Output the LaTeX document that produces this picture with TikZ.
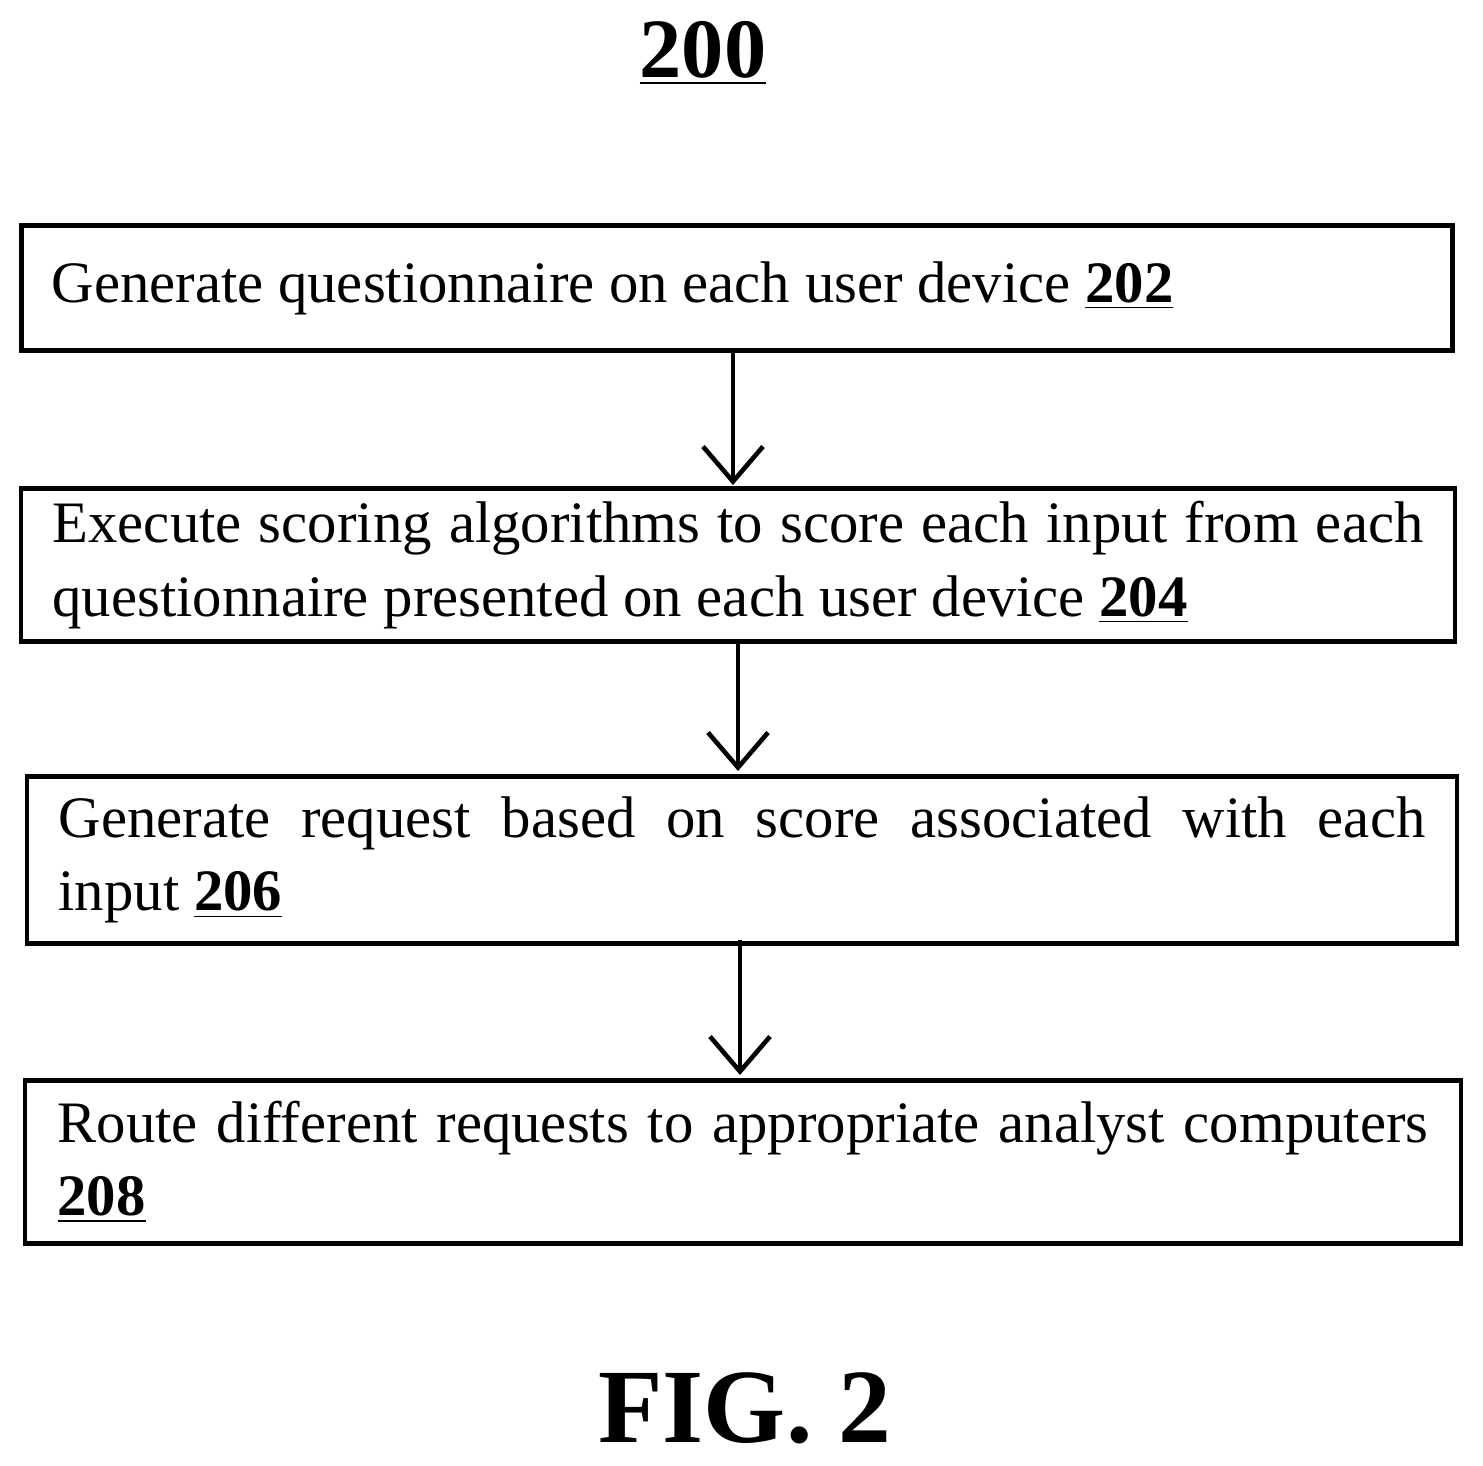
\documentclass[tikz,border=0pt]{standalone}
\usepackage{fontspec}
\setmainfont{Liberation Serif}
\usetikzlibrary{positioning,arrows.meta}
\begin{document}
\begin{tikzpicture}[x=0.01cm,y=-0.01cm,line width=1.3pt,
	box/.style={draw,rectangle,inner sep=0pt,align=justify,font=\fontsize{16.7}{20.8}\selectfont},
	flow/.style={-{Straight Barb[length=3.5mm,width=6mm,line width=1.3pt]},line width=1.3pt}]
	\useasboundingbox (0,0) rectangle (1483,1465);
	
	%TITLE
	\node[font=\fontsize{24}{30}\selectfont\bfseries] (title) at (703,53) {\underline{200}};
	
	%BOXES
	\node[box,minimum width=14.3cm,minimum height=1.25cm,text width=13.7cm] (gen) at (737,288)
		{Generate questionnaire on each user device \underline{\textbf{202}}};
	\node[box,minimum width=14.33cm,minimum height=1.53cm,text width=13.7cm] (score) at (738,565)
		{Execute scoring algorithms to score each input from each questionnaire presented on each user device \underline{\textbf{204}}};
	\node[box,minimum width=14.29cm,minimum height=1.67cm,text width=13.66cm] (req) at (742,860)
		{Generate request based on score associated with each\linebreak input \underline{\textbf{206}}};
	\node[box,minimum width=14.35cm,minimum height=1.63cm,text width=13.7cm] (route) at (743,1162)
		{Route different requests to appropriate analyst computers \underline{\textbf{208}}};
	
	%ARROWS
	\draw[flow] (733,350) -- (733,485);
	\draw[flow] (738,640) -- (738,771);
	\draw[flow] (740,940) -- (740,1075);
	
	%CAPTION
	\node[font=\fontsize{30}{36}\selectfont\bfseries] (fig) at (745,1408) {FIG. 2};
\end{tikzpicture}
\end{document}
